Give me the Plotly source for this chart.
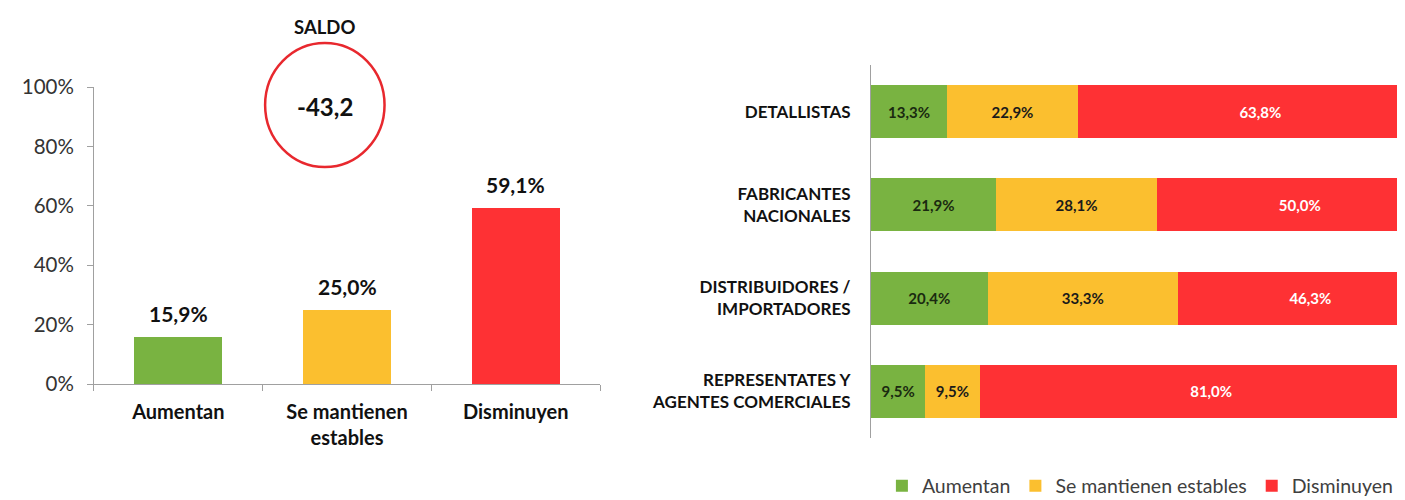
import plotly.graph_objects as go

# Left chart: overall
cats_total = ['Aumentan', 'Se mantienen<br>estables', 'Disminuyen']
vals_total = [15.9, 25.0, 59.1]
saldo = '-43,2'

# Right chart: by sector
sectors = ['DETALLISTAS', 'FABRICANTES<br>NACIONALES', 'DISTRIBUIDORES /<br>IMPORTADORES',
           'REPRESENTATES Y<br>AGENTES COMERCIALES']
aumentan = [13.3, 21.9, 20.4, 9.5]
estables = [22.9, 28.1, 33.3, 9.5]
disminuyen = [63.8, 50.0, 46.3, 81.0]

GREEN = '#79b341'
YELLOW = '#fbbf2f'
RED = '#fe3134'
FONT = 'Lato'


def pct(v):
    return f'{v:.1f}%'.replace('.', ',')


fig = go.Figure()

# left bars
fig.add_trace(go.Bar(
    x=cats_total, y=vals_total, width=0.52,
    marker=dict(color=[GREEN, YELLOW, RED], line=dict(width=0)),
    showlegend=False, hoverinfo='x+y',
    xaxis='x', yaxis='y'
))

# value labels above the left bars
annotations = [
    dict(x=c, y=v, xref='x', yref='y', text=pct(v), showarrow=False,
         yanchor='bottom', yshift=9,
         font=dict(size=21, color='#111111', family=FONT, weight='bold'))
    for c, v in zip(cats_total, vals_total)
]

# right stacked bars (chart is cut at the right edge in the original)
for name, vals, col, tcol in [('Aumentan', aumentan, GREEN, '#1a2a10'),
                              ('Se mantienen estables', estables, YELLOW, '#1a1a1a'),
                              ('Disminuyen', disminuyen, RED, 'white')]:
    fig.add_trace(go.Bar(
        y=sectors, x=vals, name=name, orientation='h', width=0.57,
        marker=dict(color=col, line=dict(width=0)),
        text=[pct(v) for v in vals], textposition='inside', insidetextanchor='middle',
        textangle=0,
        textfont=dict(size=15, color=tcol, family=FONT, weight='bold'),
        xaxis='x2', yaxis='y2'
    ))

annotations += [
    dict(text='SALDO', x=0.2256, y=0.962, xref='paper', yref='paper', showarrow=False,
         xanchor='center', yanchor='middle',
         font=dict(size=18.5, color='#111111', family=FONT, weight='bold')),
    dict(text=saldo, x=0.2256, y=0.802, xref='paper', yref='paper', showarrow=False,
         xanchor='center', yanchor='middle',
         font=dict(size=24, color='#111111', family=FONT, weight='bold')),
]

fig.update_layout(
    width=1405, height=500,
    margin=dict(l=0, r=0, t=0, b=0),
    paper_bgcolor='white', plot_bgcolor='white',
    barmode='stack',
    font=dict(family=FONT, color='#333333'),
    xaxis=dict(domain=[0.0612, 0.4214], anchor='y', automargin=False,
               showline=True, linecolor='#a0a0a0', linewidth=1,
               ticks='outside', tickson='boundaries', tickcolor='#a0a0a0', ticklen=6,
               ticklabelstandoff=10,
               tickfont=dict(size=20, color='#111111', family=FONT, weight='bold')),
    yaxis=dict(domain=[0.248, 0.842], anchor='x', range=[0, 100], dtick=20,
               ticksuffix='%', showgrid=False, zeroline=False, automargin=False,
               showline=True, linecolor='#a0a0a0', linewidth=1,
               ticks='outside', tickcolor='#a0a0a0', ticklen=6, ticklabelstandoff=9,
               tickfont=dict(size=20.5, color='#333333', family=FONT)),
    xaxis2=dict(domain=[0.6142, 1.0], anchor='y2', range=[0, 94.8], visible=False),
    yaxis2=dict(domain=[0.14, 0.886], anchor='x2', autorange='reversed', automargin=False,
                showline=True, linecolor='#a0a0a0', linewidth=1, ticks='',
                ticklabelstandoff=16,
                tickfont=dict(size=17, color='#111111', family=FONT, weight='bold')),
    legend=dict(orientation='h', x=0.622, y=0.044, xanchor='left', yanchor='middle',
                font=dict(size=19.5, color='#404040', family=FONT),
                itemwidth=30, traceorder='normal'),
    shapes=[dict(type='circle', xref='paper', yref='paper',
                 x0=0.183, x1=0.268, y0=0.682, y1=0.93,
                 line=dict(color='#e8282e', width=2.5))],
    annotations=annotations,
)

fig.write_html('out.html')
